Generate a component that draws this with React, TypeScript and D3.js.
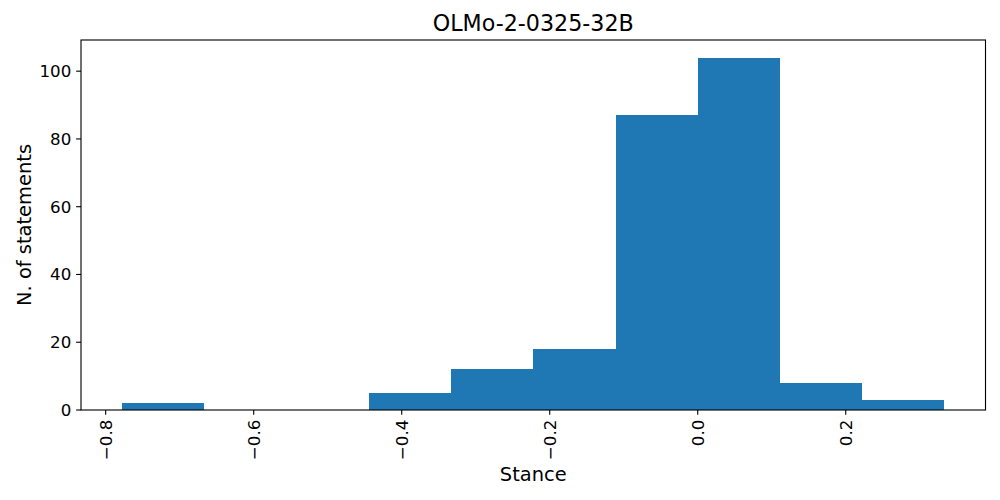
import React from "react";
import * as d3 from "d3";

const binEdges = [-0.7778, -0.6667, -0.5556, -0.4444, -0.3333, -0.2222, -0.1111, 0.0, 0.1111, 0.2222, 0.3333];
const counts = [2, 0, 0, 5, 12, 18, 87, 104, 8, 3];
const xTicks = [-0.8, -0.6, -0.4, -0.2, 0.0, 0.2];
const yTicks = [0, 20, 40, 60, 80, 100];
const title = "OLMo-2-0325-32B";
const xLabel = "Stance";
const yLabel = "N. of statements";

const W = 1000, H = 500;
const left = 81, right = 985.5, top = 40, bottom = 410;
const FONT = "'DejaVu Sans', sans-serif";

export default function App() {
  const lo = binEdges[0], hi = binEdges[binEdges.length - 1];
  const pad = (hi - lo) * 0.05;
  const x = d3.scaleLinear().domain([lo - pad, hi + pad]).range([left, right]);
  const ymax = (d3.max(counts) as number) * 1.05;
  const y = d3.scaleLinear().domain([0, ymax]).range([bottom, top]);
  const fmt = (v: number) => {
    const s = d3.format(".1f")(Math.abs(v) < 1e-9 ? 0 : v);
    return s.replace("-", "\u2212");
  };
  const tickLen = 4.86, tickPad = 4.86;

  return (
    <svg width={W} height={H} style={{ position: "absolute", left: 0, top: 0, background: "#fff" }}>
      <rect x={0} y={0} width={W} height={H} fill="#fff" />
      {counts.map((c, i) =>
        c > 0 ? (
          <rect
            key={i}
            x={x(binEdges[i])}
            y={y(c)}
            width={x(binEdges[i + 1]) - x(binEdges[i])}
            height={y(0) - y(c)}
            fill="#1f77b4"
            shapeRendering="crispEdges"
          />
        ) : null
      )}
      <rect x={left} y={top} width={right - left} height={bottom - top} fill="none" stroke="#000" strokeWidth={1.11} />
      {xTicks.map((t) => (
        <g key={"x" + t}>
          <line x1={x(t)} x2={x(t)} y1={bottom} y2={bottom + tickLen} stroke="#000" strokeWidth={1.11} />
          <text
            transform={`translate(${x(t)},${bottom + tickLen + tickPad}) rotate(-90)`}
            textAnchor="end"
            dy="0.35em"
            fontFamily={FONT}
            fontSize={16.67}
            fill="#000"
          >
            {fmt(t)}
          </text>
        </g>
      ))}
      {yTicks.map((t) => (
        <g key={"y" + t}>
          <line x1={left - tickLen} x2={left} y1={y(t)} y2={y(t)} stroke="#000" strokeWidth={1.11} />
          <text
            x={left - tickLen - tickPad}
            y={y(t)}
            dy="0.35em"
            textAnchor="end"
            fontFamily={FONT}
            fontSize={16.67}
            fill="#000"
          >
            {t}
          </text>
        </g>
      ))}
      <text x={(left + right) / 2} y={31} textAnchor="middle" fontFamily={FONT} fontSize={22.2} fill="#000">
        {title}
      </text>
      <text x={(left + right) / 2} y={481.3} textAnchor="middle" fontFamily={FONT} fontSize={19.44} fill="#000">
        {xLabel}
      </text>
      <text
        transform={`translate(30.5,${(top + bottom) / 2}) rotate(-90)`}
        textAnchor="middle"
        fontFamily={FONT}
        fontSize={19.44}
        fill="#000"
      >
        {yLabel}
      </text>
    </svg>
  );
}
